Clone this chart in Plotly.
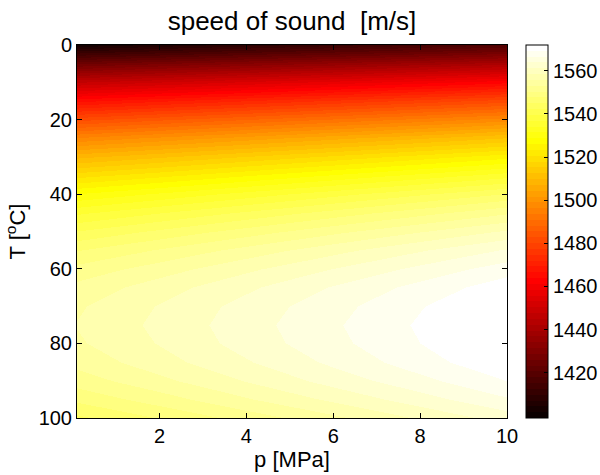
import plotly.graph_objects as go

# Temperatures [°C] (rows) and pressures [MPa] (columns)
temperature = [0, 5, 10, 15, 20, 25, 30, 35, 40, 45, 50, 55, 60, 65, 70, 75, 80, 85, 90, 95, 100]
pressure = [0.1, 2, 4, 6, 8, 10]

# Speed of sound [m/s] read per pressure column (top to bottom = temperature list)
c_p0_1 = [1402.4, 1426.2, 1447.3, 1465.9, 1482.3, 1496.7, 1509.2, 1519.8, 1528.9, 1536.4, 1542.6,
          1547.5, 1551.3, 1553.9, 1555.4, 1555.9, 1555.4, 1554.0, 1551.6, 1548.4, 1544.3]
c_p2 = [1405.4, 1429.2, 1450.3, 1469.0, 1485.4, 1499.8, 1512.3, 1522.9, 1532.0, 1539.6, 1545.8,
        1550.7, 1554.5, 1557.2, 1558.7, 1559.2, 1558.7, 1557.4, 1555.0, 1551.8, 1547.8]
c_p4 = [1408.6, 1432.4, 1453.5, 1472.2, 1488.6, 1503.0, 1515.6, 1526.2, 1535.3, 1542.9, 1549.1,
        1554.1, 1557.9, 1560.6, 1562.2, 1562.7, 1562.3, 1560.9, 1558.6, 1555.5, 1551.4]
c_p6 = [1411.8, 1435.6, 1456.7, 1475.4, 1491.8, 1506.3, 1518.8, 1529.5, 1538.6, 1546.2, 1552.5,
        1557.5, 1561.3, 1564.1, 1565.6, 1566.2, 1565.8, 1564.5, 1562.2, 1559.1, 1555.1]
c_p8 = [1415.0, 1438.8, 1459.9, 1478.6, 1495.0, 1509.5, 1522.1, 1532.8, 1541.9, 1549.5, 1555.8,
        1560.9, 1564.7, 1567.5, 1569.1, 1569.7, 1569.3, 1568.1, 1565.7, 1562.7, 1558.8]
c_p10 = [1418.2, 1442.0, 1463.1, 1481.8, 1498.2, 1512.7, 1525.3, 1536.0, 1545.2, 1552.8, 1559.1,
         1564.2, 1568.1, 1570.9, 1572.5, 1573.2, 1572.8, 1571.6, 1569.3, 1566.3, 1562.4]

columns = [c_p0_1, c_p2, c_p4, c_p6, c_p8, c_p10]
z = [[col[i] for col in columns] for i in range(len(temperature))]

# colour limits
color_min = 1399.0
color_max = 1572.0
colorbar_ticks = [1420, 1440, 1460, 1480, 1500, 1520, 1540, 1560]
x_ticks = [2, 4, 6, 8, 10]
y_ticks = [0, 20, 40, 60, 80, 100]

# MATLAB "hot" colormap with 64 discrete levels
m = 64
n = 24
hot = []
for i in range(m):
    r = min(1.0, (i + 1) / n)
    g = 0.0 if i < n else min(1.0, (i + 1 - n) / n)
    b = 0.0 if i < 2 * n else (i + 1 - 2 * n) / (m - 2 * n)
    hot.append("rgb(%d,%d,%d)" % (round(r * 255), round(g * 255), round(b * 255)))
colorscale = []
for i, c in enumerate(hot):
    colorscale.append([i / m, c])
    colorscale.append([(i + 1) / m, c])

FONT = "Liberation Sans, Arial, Helvetica, sans-serif"

fig = go.Figure(go.Heatmap(
    x=pressure, y=temperature, z=z,
    zsmooth="best",
    zmin=color_min, zmax=color_max,
    colorscale=colorscale,
    colorbar=dict(
        x=1.044, xanchor="left", xpad=0, ypad=0,
        y=0.5, yanchor="middle", len=1.0, lenmode="fraction",
        thickness=22, thicknessmode="pixels",
        outlinecolor="black", outlinewidth=1,
        ticks="inside", ticklen=4, tickcolor="black",
        tickvals=colorbar_ticks,
        tickfont=dict(family=FONT, size=20, color="black"),
    ),
))

fig.update_layout(
    width=600, height=475,
    margin=dict(l=77, r=93, t=45, b=57, autoexpand=False),
    paper_bgcolor="white", plot_bgcolor="white",
    title=dict(text="speed of sound  [m/s]", x=0.5, xref="paper", xanchor="center",
               y=0.955, yanchor="middle",
               font=dict(family=FONT, size=26, color="black")),
    xaxis=dict(
        range=[0.1, 10], tickvals=x_ticks, ticks="inside", ticklen=5, tickcolor="black",
        showline=True, linecolor="black", linewidth=1, mirror="allticks",
        showgrid=False, zeroline=False,
        tickfont=dict(family=FONT, size=20, color="black"),
        title=dict(text="p [MPa]", font=dict(family=FONT, size=22, color="black"), standoff=0),
    ),
    yaxis=dict(
        range=[100, 0], tickvals=y_ticks, ticks="inside", ticklen=5, tickcolor="black",
        showline=True, linecolor="black", linewidth=1, mirror="allticks",
        showgrid=False, zeroline=False,
        tickfont=dict(family=FONT, size=20, color="black"),
        title=dict(text="T [<sup>o</sup>C]", font=dict(family=FONT, size=22, color="black"), standoff=6),
    ),
)

fig.write_html("out.html")
